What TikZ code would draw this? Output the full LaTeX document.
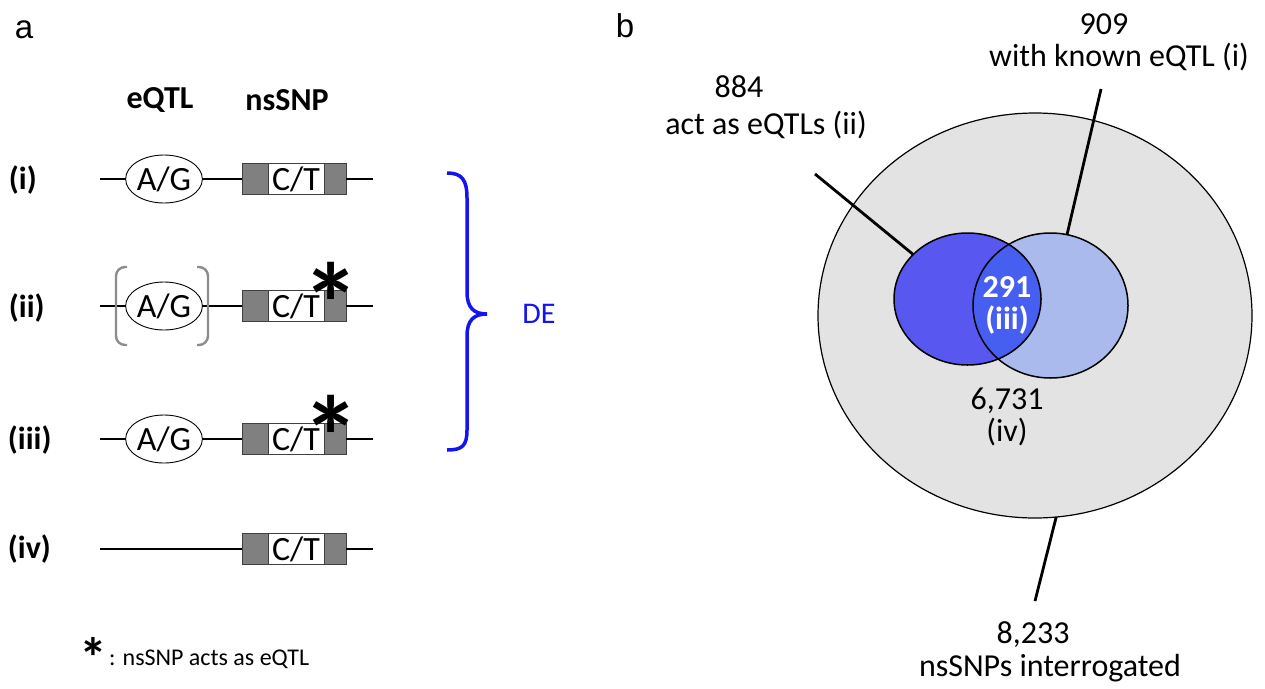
\documentclass[tikz,border=0pt]{standalone}
\usepackage{fontspec}
\setmainfont{Carlito}
\newfontfamily\panelfont{Liberation Sans}
\usetikzlibrary{shapes.geometric}
\definecolor{exongray}{HTML}{808080}
\definecolor{edgegray}{HTML}{404040}
\definecolor{brgray}{HTML}{8C8C8C}
\definecolor{vennbg}{HTML}{E3E3E3}
\definecolor{darkv}{HTML}{5858F0}
\definecolor{lightv}{HTML}{AABAEC}
\definecolor{interv}{HTML}{465FF0}
\definecolor{braceblue}{HTML}{1414F0}
\newcommand\myfs[1]{\fontsize{#1}{#1}\selectfont}
\tikzset{
  txt/.style={inner sep=0pt, outer sep=0pt, font=\myfs{32}},
  btxt/.style={inner sep=0pt, outer sep=0pt, font=\myfs{32}\bfseries},
  paneltxt/.style={inner sep=0pt, outer sep=0pt, font=\panelfont\myfs{33}},
  gene/.style={line width=2.2pt, black},
  snpell/.style={ellipse, draw=black, line width=0.9pt, fill=white, minimum width=62pt, minimum height=48pt, inner sep=0pt, outer sep=0pt, font=\myfs{34}},
  exonL/.style={rectangle, draw=edgegray, fill=exongray, line width=1pt, minimum width=26pt, minimum height=31pt, inner sep=0pt, outer sep=0pt},
  exonR/.style={exonL, minimum width=22pt},
  exonM/.style={rectangle, draw=edgegray, fill=white, line width=1pt, minimum width=56pt, minimum height=31pt, inner sep=0pt, outer sep=0pt, font=\myfs{34}},
  bracket/.style={draw=brgray, line width=2.4pt, rounded corners=9pt},
  star/.style={inner sep=0pt, outer sep=0pt, font=\myfs{115}\bfseries},
  brace/.style={draw=braceblue, line width=3.5pt},
  venn/.style={ellipse, inner sep=0pt, outer sep=0pt},
  lead/.style={line width=2.8pt, black},
}
\begin{document}
\begin{tikzpicture}[x=1pt,y=-1pt]
\useasboundingbox (0,0) rectangle (1265,688);

% ---------- panel a ----------
\node[paneltxt] (pa) at (24,30) {a};
\node[btxt] (hE) at (160,100) {eQTL};
\node[btxt] (hN) at (287,100) {nsSNP};

\node[btxt, anchor=west] (r1) at (9,180) {(i)};
\node[btxt, anchor=west] (r2) at (9,308) {(ii)};
\node[btxt, anchor=west] (r3) at (8,440) {(iii)};
\node[btxt, anchor=west] (r4) at (8,549) {(iv)};

% row i
\coordinate (s1) at (100,179); \coordinate (e1) at (373,179);
\node[snpell] (ag1) at (164,179) {A/G};
\node[exonL] (xl1) at (255,179) {};
\node[exonM] (ct1) at (296,179) {C/T};
\node[exonR] (xr1) at (335,179) {};
\draw[gene] (s1) -- (ag1);
\draw[gene] (ag1) -- (xl1);
\draw[gene] (xr1) -- (e1);

% row ii
\coordinate (s2) at (100,306); \coordinate (e2) at (373,306);
\node[snpell] (ag2) at (164,306) {A/G};
\node[exonL] (xl2) at (255,306) {};
\node[exonM] (ct2) at (296,306) {C/T};
\node[exonR] (xr2) at (335,306) {};
\draw[gene] (s2) -- (ag2);
\draw[gene] (ag2) -- (xl2);
\draw[gene] (xr2) -- (e2);
\draw[bracket] (127,267) -- (116,267) -- (116,345) -- (127,345);
\draw[bracket] (197,267) -- (208,267) -- (208,345) -- (197,345);
\node[star] (st2) at (331,303) {*};

% row iii
\coordinate (s3) at (100,439); \coordinate (e3) at (373,439);
\node[snpell] (ag3) at (164,439) {A/G};
\node[exonL] (xl3) at (255,439) {};
\node[exonM] (ct3) at (296,439) {C/T};
\node[exonR] (xr3) at (335,439) {};
\draw[gene] (s3) -- (ag3);
\draw[gene] (ag3) -- (xl3);
\draw[gene] (xr3) -- (e3);
\node[star] (st3) at (331,436) {*};

% row iv
\coordinate (s4) at (100,549); \coordinate (e4) at (373,549);
\node[exonL] (xl4) at (255,549) {};
\node[exonM] (ct4) at (296,549) {C/T};
\node[exonR] (xr4) at (335,549) {};
\draw[gene] (s4) -- (xl4);
\draw[gene] (xr4) -- (e4);

% brace and DE
\draw[brace] (447,173) .. controls (462,173) and (467,180) .. (467,198)
  -- (467,292) .. controls (467,308) and (474,314) .. (487,314)
  .. controls (474,314) and (467,320) .. (467,336)
  -- (467,430) .. controls (467,446) and (462,450) .. (447,450);
\node[txt, font=\myfs{30}, text=braceblue] (de) at (539,314) {DE};

% legend
\node[star, font=\myfs{56}\bfseries] (lst) at (93,657) {*};
\node[txt, font=\myfs{24}, anchor=west] (leg) at (109,659) {: nsSNP acts as eQTL};

% ---------- panel b ----------
\node[paneltxt] (pb) at (625,26) {b};

\node[venn, draw=black, line width=1.2pt, fill=vennbg, minimum width=434pt, minimum height=405pt] (all) at (1035,315.5) {};
\node[venn, fill=darkv, minimum width=147pt, minimum height=132pt] (dark) at (967.5,299) {};
\node[venn, fill=lightv, minimum width=155pt, minimum height=145pt] (light) at (1050.5,305.5) {};
\begin{scope}
  \clip (967.5,299) ellipse [x radius=73.5pt, y radius=66pt];
  \fill[interv] (1050.5,305.5) ellipse [x radius=77.5pt, y radius=72.5pt];
\end{scope}
\draw[line width=1.5pt] (967.5,299) ellipse [x radius=73.5pt, y radius=66pt];
\draw[line width=1.5pt] (1050.5,305.5) ellipse [x radius=77.5pt, y radius=72.5pt];

\node[btxt, text=white] (n291) at (1007,287) {291};
\node[btxt, text=white] (n3) at (1007,320) {(iii)};
\node[txt] (n6731) at (1007,401) {6,731};
\node[txt] (n4) at (1007,432) {(iv)};

\coordinate (c884) at (815,174);
\coordinate (c909) at (1101,89);
\coordinate (c8233) at (1035,601);
\draw[lead] (c884) -- (dark);
\draw[lead] (c909) -- (light);
\draw[lead] (c8233) -- (all.-84);

\node[txt] (t884) at (739,87) {884};
\node[txt] (t884b) at (766,125) {act as eQTLs (ii)};
\node[txt] (t909) at (1104,24) {909};
\node[txt] (t909b) at (1119,57) {with known eQTL (i)};
\node[txt] (t8233) at (1033,635) {8,233};
\node[txt] (t8233b) at (1050,668) {nsSNPs interrogated};
\end{tikzpicture}
\end{document}
